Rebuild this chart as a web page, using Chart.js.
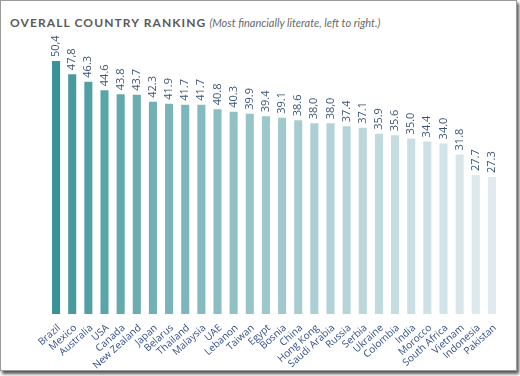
<!DOCTYPE html>
<html>
<head>
<meta charset="utf-8">
<script src="https://cdn.jsdelivr.net/npm/chart.js@4/dist/chart.umd.min.js"></script>
<style>
  html, body { margin: 0; padding: 0; background: #fff; }
  #frame {
    position: absolute; left: 0; top: 0;
    width: 515px; height: 369px;
    border: 1px solid #9a9a9a;
    box-shadow: 2px 3px 3px #555;
    background: #fff;
    overflow: hidden;
  }
  #title {
    position: absolute; left: 9px; top: 10px;
    font-family: Lato, "Open Sans", sans-serif;
    white-space: nowrap;
  }
  #title .main { font-size: 12px; font-weight: bold; letter-spacing: 1.1px; color: #5a5a5a; }
  #title .sub { font-size: 11px; font-style: italic; color: #6a6a6a; margin-left: 3px; }
  canvas { position: absolute; left: 0; top: 0; }
</style>
</head>
<body>
<div id="frame">
  <div id="title"><span class="main">OVERALL COUNTRY RANKING</span><span class="sub">(Most financially literate, left to right.)</span></div>
  <canvas id="chart" width="515" height="369"></canvas>
</div>
<script>
const countries = ['Brazil', 'Mexico', 'Australia', 'USA', 'Canada', 'New Zealand', 'Japan', 'Belarus',
  'Thailand', 'Malaysia', 'UAE', 'Lebanon', 'Taiwan', 'Egypt', 'Bosnia', 'China', 'Hong Kong',
  'Saudi Arabia', 'Russia', 'Serbia', 'Ukraine', 'Colombia', 'India', 'Morocco', 'South Africa',
  'Vietnam', 'Indonesia', 'Pakistan'];
const scores = [50.4, 47.8, 46.3, 44.6, 43.8, 43.7, 42.3, 41.9, 41.7, 41.7, 40.8, 40.3, 39.9, 39.4,
  39.1, 38.6, 38.0, 38.0, 37.4, 37.1, 35.9, 35.6, 35.0, 34.4, 34.0, 31.8, 27.7, 27.3];
const scoreLabels = ['50,4', '47,8', '46.3', '44.6', '43.8', '43.7', '42.3', '41.9', '41.7', '41.7',
  '40.8', '40.3', '39.9', '39.4', '39.1', '38.6', '38,0', '38,0', '37.4', '37.1', '35.9', '35.6',
  '35.0', '34.4', '34.0', '31.8', '27.7', '27.3'];

// teal -> pale grey-blue, fading left to right (faster at the start)
function barColor(i, n) {
  const a = [56, 146, 150], b = [225, 235, 239];
  const t = Math.pow(i / (n - 1), 0.72);
  const c = a.map((v, k) => Math.round(v + (b[k] - v) * t));
  return `rgb(${c[0]},${c[1]},${c[2]})`;
}

const valueLabels = {
  id: 'valueLabels',
  afterDatasetsDraw(chart) {
    const ctx = chart.ctx;
    const meta = chart.getDatasetMeta(0);
    ctx.save();
    ctx.fillStyle = '#3b5578';
    ctx.font = '11px "Open Sans", sans-serif';
    ctx.textAlign = 'left';
    ctx.textBaseline = 'middle';
    meta.data.forEach((bar, i) => {
      ctx.save();
      ctx.translate(bar.x, bar.y - 4);
      ctx.rotate(-Math.PI / 2);
      ctx.fillText(scoreLabels[i], 0, 0);
      ctx.restore();
    });
    ctx.restore();
  }
};

new Chart(document.getElementById('chart'), {
  type: 'bar',
  data: {
    labels: countries,
    datasets: [{
      data: scores,
      backgroundColor: countries.map((c, i) => barColor(i, countries.length)),
      barPercentage: 0.5,
      categoryPercentage: 1.0
    }]
  },
  options: {
    responsive: false,
    animation: false,
    layout: { padding: { left: 47, right: 16, top: 32, bottom: 0 } },
    plugins: { legend: { display: false }, tooltip: { enabled: false } },
    scales: {
      y: { display: false, min: 0, max: 56 },
      x: {
        grid: { display: false },
        border: { display: false },
        ticks: {
          autoSkip: false,
          minRotation: 42, maxRotation: 42,
          padding: 0,
          labelOffset: 3,
          color: '#32508a',
          font: { family: '"Open Sans", sans-serif', size: 10 }
        },
        afterFit(scale) { scale.height = 56; }
      }
    }
  },
  plugins: [valueLabels]
});
</script>
</body>
</html>
